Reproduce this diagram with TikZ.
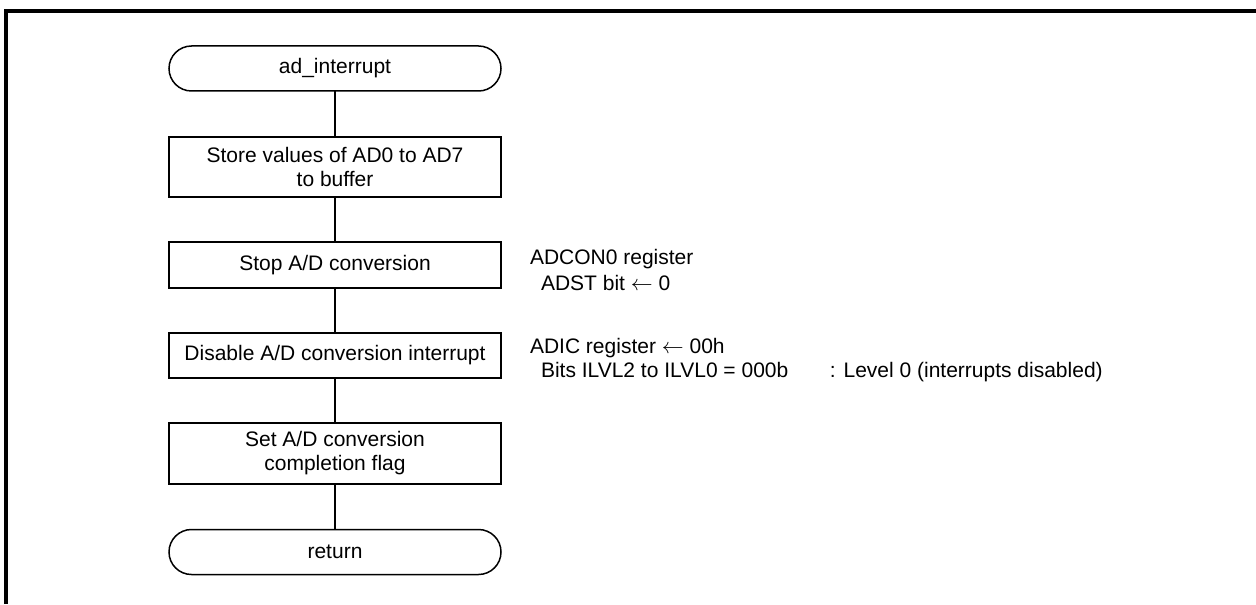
\documentclass[tikz,border=0pt]{standalone}
\usepackage{fontspec}
\setmainfont{Liberation Sans}
\tikzset{
  proc/.style={draw,line width=0.75pt,minimum width=166pt,align=center,inner sep=0pt,outer sep=0pt},
  term/.style={proc,rounded corners=11.25pt,minimum height=22.5pt},
  flow/.style={line width=0.75pt},
  note/.style={anchor=base west,inner sep=0pt,outer sep=0pt},
  frm/.style={line width=1.6pt}
}

\begin{document}
\begin{tikzpicture}[x=0.5pt,y=-0.5pt,font=\fontsize{10.5}{12}\selectfont]
\useasboundingbox (0,0) rectangle (1256,604);
\draw[frm] (6,604) -- (6,11) -- (1256,11);
% flow
\node[term] (start) at (335,68.5) {ad\_interrupt};
\node[proc,minimum height=30pt] (store) at (335,167) {Store values of AD0 to AD7\\to buffer};
\node[proc,minimum height=23pt] (stop) at (335,265) {Stop A/D conversion};
\node[proc,minimum height=22.5pt] (dis) at (335,355.5) {Disable A/D conversion interrupt};
\node[proc,minimum height=30.5pt] (flag) at (335,453.5) {Set A/D conversion\\completion flag};
\node[term] (ret) at (335,552) {return};
\draw[flow] (start) -- (store);
\draw[flow] (store) -- (stop);
\draw[flow] (stop) -- (dis);
\draw[flow] (dis) -- (flag);
\draw[flow] (flag) -- (ret);
% notes
\node[note] (n1) at (530,264) {ADCON0 register};
\node[note] (n2) at (541,290) {ADST bit $\leftarrow$ 0};
\node[note] (n3) at (530,353) {ADIC register $\leftarrow$ 00h};
\node[note] (n4) at (541,377) {\makebox[144.5pt][l]{Bits ILVL2 to ILVL0 = 000b}: Level 0 (interrupts disabled)};
\end{tikzpicture}
\end{document}
